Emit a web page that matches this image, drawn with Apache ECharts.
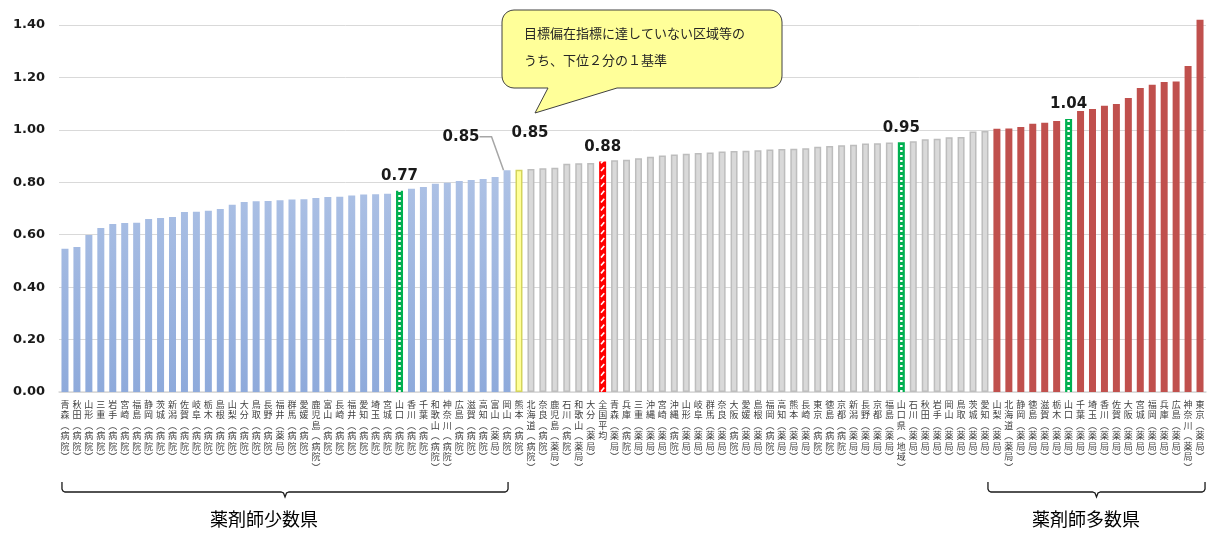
<!DOCTYPE html>
<html>
<head>
<meta charset="utf-8">
<script src="https://cdn.jsdelivr.net/npm/echarts@6/dist/echarts.min.js"></script>
<style>
  html, body { margin: 0; padding: 0; background: #fff; }
  #chartsId { width: 1211px; height: 533px; }
</style>
</head>
<body>
<div id="chartsId"></div>
<script>
// 区域ごとの偏在指標（低い順）
const categories = [
  "青森（病院）", "秋田（病院）", "山形（病院）", "三重（病院）", "岩手（病院）", "宮崎（病院）",
  "福島（病院）", "静岡（病院）", "茨城（病院）", "新潟（病院）", "佐賀（病院）", "岐阜（病院）",
  "栃木（病院）", "島根（病院）", "山梨（病院）", "大分（病院）", "鳥取（病院）", "長野（病院）",
  "福井（薬局）", "群馬（病院）", "愛媛（病院）", "鹿児島（病院）", "富山（病院）", "長崎（病院）",
  "福井（病院）", "愛知（病院）", "埼玉（病院）", "宮城（病院）", "山口（病院）", "香川（病院）",
  "千葉（病院）", "和歌山（病院）", "神奈川（病院）", "広島（病院）", "滋賀（病院）", "高知（病院）",
  "富山（薬局）", "岡山（病院）", "熊本（病院）",
  "北海道（病院）", "奈良（病院）", "鹿児島（薬局）", "石川（病院）", "和歌山（薬局）", "大分（薬局）",
  "全国平均", "青森（薬局）", "兵庫（病院）", "三重（薬局）", "沖縄（薬局）", "宮崎（薬局）",
  "沖縄（病院）", "山形（薬局）", "岐阜（薬局）", "群馬（薬局）", "奈良（薬局）", "大阪（病院）",
  "愛媛（薬局）", "島根（薬局）", "福岡（病院）", "高知（薬局）", "熊本（薬局）", "長崎（薬局）",
  "東京（病院）", "徳島（病院）", "京都（病院）", "新潟（薬局）", "長野（薬局）", "京都（薬局）",
  "福島（薬局）", "山口県（地域）", "石川（薬局）", "秋田（薬局）", "岩手（薬局）", "岡山（薬局）",
  "鳥取（薬局）", "茨城（薬局）", "愛知（薬局）",
  "山梨（薬局）", "北海道（薬局）", "静岡（薬局）", "徳島（薬局）", "滋賀（薬局）", "栃木（薬局）",
  "山口（薬局）", "千葉（薬局）", "埼玉（薬局）", "香川（薬局）", "佐賀（薬局）", "大阪（薬局）",
  "宮城（薬局）", "福岡（薬局）", "兵庫（薬局）", "広島（薬局）", "神奈川（薬局）", "東京（薬局）"
];
const values = [
  0.546, 0.553, 0.599, 0.626, 0.641, 0.645, 0.646, 0.660, 0.664, 0.668, 0.687, 0.688,
  0.691, 0.698, 0.714, 0.725, 0.728, 0.729, 0.731, 0.734, 0.735, 0.740, 0.744, 0.745,
  0.750, 0.753, 0.754, 0.756, 0.768, 0.775, 0.782, 0.794, 0.798, 0.805, 0.809, 0.813,
  0.820, 0.846, 0.848,
  0.851, 0.854, 0.855, 0.871, 0.873, 0.874, 0.879, 0.884, 0.886, 0.892, 0.897, 0.902,
  0.906, 0.909, 0.912, 0.914, 0.917, 0.919, 0.920, 0.922, 0.925, 0.927, 0.928, 0.930,
  0.936, 0.938, 0.941, 0.943, 0.948, 0.949, 0.952, 0.953, 0.957, 0.964, 0.966, 0.972,
  0.973, 0.994, 0.996,
  1.004, 1.005, 1.011, 1.023, 1.027, 1.034, 1.041, 1.072, 1.080, 1.092, 1.099, 1.122,
  1.160, 1.172, 1.183, 1.184, 1.244, 1.420
];

const shortageLast = "熊本（病院）";   // ここまで薬剤師少数県側
const surplusFirst = "山梨（薬局）";   // ここから薬剤師多数県側
const greenMarks = ["山口（病院）", "山口県（地域）", "山口（薬局）"];
const averageName = "全国平均";
const thresholdName = "熊本（病院）";
const labelled = ["山口（病院）", "岡山（病院）", "熊本（病院）", "全国平均", "山口県（地域）", "山口（薬局）"];
const leaderName = "岡山（病院）";
const groupNames = ["薬剤師少数県", "薬剤師多数県"];
const calloutLines = ["目標偏在指標に達していない区域等の", "うち、下位２分の１基準"];

const lowEnd = categories.indexOf(shortageLast);
const highStart = categories.indexOf(surplusFirst);

let myChart = echarts.init(document.getElementById("chartsId"));

const blueFill = new echarts.graphic.LinearGradient(0, 25, 0, 392, [
  { offset: 0, color: "#c3d2ec" },
  { offset: 1, color: "#8eaadb" }
], true);

const barData = values.map((v, i) => {
  const name = categories[i];
  let style;
  if (greenMarks.includes(name)) {
    style = { color: "#00b050" };
  } else if (name === averageName) {
    style = { color: "#ff0000" };
  } else if (name === thresholdName) {
    style = { color: "#ffff99", borderColor: "#d4d45c", borderWidth: 1.5 };
  } else if (i <= lowEnd) {
    style = { color: blueFill };
  } else if (i < highStart) {
    style = { color: "#d9d9d9", borderColor: "#bdbdbd", borderWidth: 1.5 };
  } else {
    style = { color: "#c0504d" };
  }
  const item = { value: v, itemStyle: style };
  if (labelled.includes(name)) {
    item.label = { show: true };
    if (name === leaderName) {
      item.labelLine = { show: true, length2: 12, lineStyle: { color: "#a6a6a6", width: 1.5 } };
    }
  }
  return item;
});

// 強調バーの白い破線
const dashData = values.map((v, i) => {
  const name = categories[i];
  if (greenMarks.includes(name)) return { value: v };
  if (name === averageName) return { value: v, symbolSize: [1.6, 5], symbolRotate: -40, symbolMargin: 1.5 };
  return "-";
});

let option = {
  animation: false,
  grid: { left: 59, right: 5, top: 25, bottom: 141 },
  xAxis: {
    type: "category",
    data: categories,
    axisTick: { show: false },
    axisLine: { lineStyle: { color: "#d9d9d9", width: 1.5 } },
    axisLabel: {
      interval: 0,
      margin: 7,
      fontSize: 9,
      lineHeight: 10.5,
      color: "#404040",
      fontFamily: "Noto Sans CJK JP",
      formatter: function(value) {
        return value.replace("（", "︵").replace("）", "︶").split("").join("\n");
      }
    }
  },
  yAxis: {
    type: "value",
    min: 0,
    max: 1.4,
    interval: 0.2,
    axisLine: { show: false },
    axisTick: { show: false },
    splitLine: { lineStyle: { color: "#d9d9d9", width: 1 } },
    axisLabel: {
      margin: 14,
      fontSize: 13,
      fontWeight: "bold",
      color: "#1a1a1a",
      fontFamily: "DejaVu Sans",
      formatter: v => v.toFixed(2)
    }
  },
  series: [
    {
      type: "bar",
      barWidth: 7,
      clip: false,
      data: barData,
      label: {
        show: false,
        position: "top",
        distance: 7,
        fontSize: 15,
        fontWeight: "bold",
        color: "#1a1a1a",
        fontFamily: "DejaVu Sans",
        formatter: p => p.value.toFixed(2)
      },
      labelLine: { show: false },
      labelLayout: function(params) {
        const name = categories[params.dataIndex];
        if (name === leaderName) return { dx: -46, dy: -19 };
        if (name === thresholdName) return { dx: 11, dy: -22 };
        return {};
      }
    },
    {
      type: "pictorialBar",
      data: dashData,
      z: 5,
      silent: true,
      symbol: "rect",
      symbolSize: [2.5, 2],
      symbolRepeat: true,
      symbolMargin: 1.5,
      itemStyle: { color: "#ffffff" }
    }
  ]
};
myChart.setOption(option);

// 吹き出しと括弧
function corner(cx, cy, r, a0, a1) {
  const pts = [];
  for (let k = 0; k <= 6; k++) {
    const a = a0 + (a1 - a0) * k / 6;
    pts.push([cx + r * Math.cos(a), cy + r * Math.sin(a)]);
  }
  return pts;
}
const R = 12, bx0 = 502, by0 = 10, bx1 = 782, by1 = 88;
const bubble = [].concat(
  corner(bx0 + R, by0 + R, R, Math.PI, Math.PI * 1.5),
  corner(bx1 - R, by0 + R, R, Math.PI * 1.5, Math.PI * 2),
  corner(bx1 - R, by1 - R, R, 0, Math.PI * 0.5),
  [[617, by1], [535, 113], [548, by1]],
  corner(bx0 + R, by1 - R, R, Math.PI * 0.5, Math.PI)
);

const px = name => myChart.convertToPixel({ xAxisIndex: 0 }, name);
function brace(x0, x1) {
  const xm = (x0 + x1) / 2;
  return [[x0, 482], [x0, 489], [x0 + 1, 491], [x0 + 3, 492], [xm - 4, 492], [xm - 1.5, 493],
    [xm, 497], [xm + 1.5, 493], [xm + 4, 492], [x1 - 3, 492], [x1 - 1, 491], [x1, 489], [x1, 482]];
}
const leftA = px(categories[0]) - 3;
const leftB = px(leaderName) + 1;
const rightA = px(categories[highStart - 1]) + 3;
const rightB = px(categories[categories.length - 1]) + 5;

myChart.setOption({
  graphic: [
    {
      type: "polygon",
      shape: { points: bubble },
      style: { fill: "#ffff99", stroke: "#404040", lineWidth: 1 },
      z: 10
    },
    {
      type: "text", left: 524, top: 27, z: 11,
      style: { text: calloutLines[0], fontSize: 13, fill: "#262626", fontFamily: "Noto Sans CJK JP" }
    },
    {
      type: "text", left: 524, top: 54, z: 11,
      style: { text: calloutLines[1], fontSize: 13, fill: "#262626", fontFamily: "Noto Sans CJK JP" }
    },
    {
      type: "polyline", shape: { points: brace(leftA, leftB) },
      style: { fill: null, stroke: "#1a1a1a", lineWidth: 1.3 }
    },
    {
      type: "polyline", shape: { points: brace(rightA, rightB) },
      style: { fill: null, stroke: "#1a1a1a", lineWidth: 1.3 }
    },
    {
      type: "text", left: 210, top: 510,
      style: { text: groupNames[0], fontSize: 18, fill: "#000", fontFamily: "Noto Sans CJK JP" }
    },
    {
      type: "text", left: 1032, top: 510,
      style: { text: groupNames[1], fontSize: 18, fill: "#000", fontFamily: "Noto Sans CJK JP" }
    }
  ]
});
</script>
</body>
</html>
